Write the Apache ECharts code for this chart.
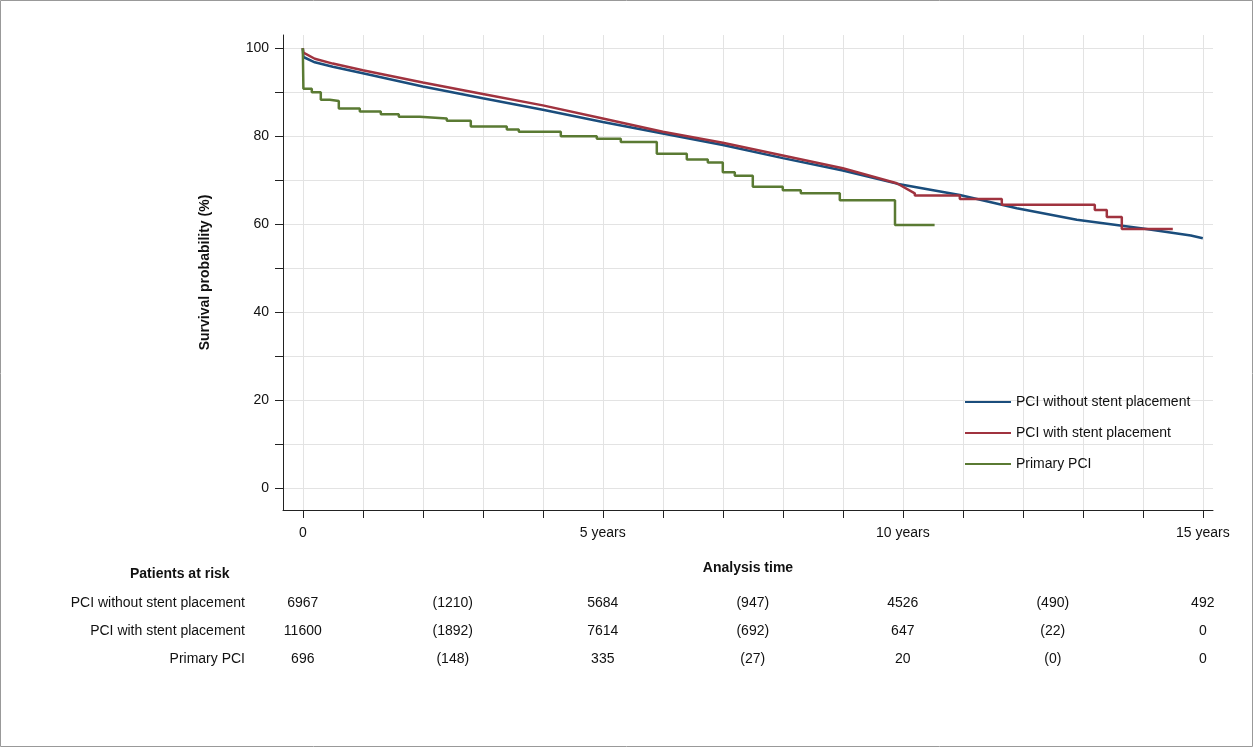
<!DOCTYPE html>
<html>
<head>
<meta charset="utf-8">
<script src="https://cdn.jsdelivr.net/npm/echarts@6/dist/echarts.min.js"></script>
<style>
  html, body { margin: 0; padding: 0; background: #fff; }
  #chart { width: 1253px; height: 747px; }
</style>
</head>
<body>
<div id="chart"></div>
<script>
// survival curves, [years, %]
const withoutStent = [[0, 100], [0.01, 98], [0.2, 96.8], [0.5, 95.8], [1, 94.3], [2, 91.3], [3, 88.6], [4, 86], [5, 83.2], [6, 80.6],
  [7, 78], [8, 75], [9, 72.2], [9.9, 69.2], [10.95, 66.6], [11.9, 63.6], [12.9, 61], [14, 59], [14.8, 57.4], [15, 56.8]];
const withStent = [[0, 100], [0.01, 99], [0.2, 97.6], [0.5, 96.5], [1, 95], [2, 92.2], [3, 89.6], [4, 87], [5, 84], [6, 81],
  [7, 78.5], [8, 75.6], [9, 72.7], [9.9, 69.3], [10.2, 67], [10.2, 66.5], [10.95, 66.5], [10.95, 65.7], [11.65, 65.7],
  [11.65, 64.4], [13.2, 64.4], [13.2, 63.2], [13.4, 63.2], [13.4, 61.6], [13.65, 61.6], [13.65, 58.9], [14.5, 58.9]];
const primary = [[0, 100], [0.01, 90.8], [0.15, 90], [0.3, 88.3], [0.45, 88], [0.6, 86.3], [0.95, 85.6], [1.3, 85], [1.6, 84.4],
  [1.95, 84], [2.4, 83.5], [2.8, 82.2], [3.4, 81.5], [3.6, 81], [4.3, 80], [4.9, 79.4], [5.3, 78.7], [5.9, 76],
  [6.4, 74.7], [6.75, 74], [7.0, 71.8], [7.2, 71], [7.5, 68.5], [8.0, 67.7], [8.3, 67], [8.95, 65.4],
  [9.87, 59.8], [10.53, 59.8]];

const seriesNames = ['PCI without stent placement', 'PCI with stent placement', 'Primary PCI'];
const seriesColors = ['#1a4d7c', '#a0333f', '#5a7a33'];

// patients at risk table
const riskTimes = [0, 2.5, 5, 7.5, 10, 12.5, 15];
const riskWithout = ['6967', '(1210)', '5684', '(947)', '4526', '(490)', '492'];
const riskWith = ['11600', '(1892)', '7614', '(692)', '647', '(22)', '0'];
const riskPrimary = ['696', '(148)', '335', '(27)', '20', '(0)', '0'];

const yTicks = [0, 10, 20, 30, 40, 50, 60, 70, 80, 90, 100];
const yLabels = [0, 20, 40, 60, 80, 100];
const xTicks = [0, 1, 2, 3, 4, 5, 6, 7, 8, 9, 10, 11, 12, 13, 14, 15];
const xLabels = [0, 5, 10, 15];

const font = 'Liberation Sans, Arial, sans-serif';

const riskData = [];
[riskWithout, riskWith, riskPrimary].forEach((row, r) => {
  row.forEach((v, i) => riskData.push({ value: [riskTimes[i], seriesNames[r]], txt: v }));
});

const chart = echarts.init(document.getElementById('chart'));
chart.setOption({
  animation: false,
  textStyle: { fontFamily: font },
  graphic: [
    { type: 'rect', shape: { x: 0.5, y: 0.5, width: 1252, height: 746 }, style: { fill: 'none', stroke: '#999', lineWidth: 1 } },
    { type: 'text', left: 130, top: 567, style: { text: 'Patients at risk', font: 'bold 14px ' + font, fill: '#111' } }
  ],
  legend: {
    orient: 'vertical', left: 960, top: 390, itemGap: 17, itemWidth: 46, itemHeight: 2,
    icon: 'rect',
    textStyle: { fontSize: 14, color: '#111', fontFamily: font },
    data: seriesNames
  },
  grid: [
    { left: 283, right: 40, top: 35, bottom: 237 },
    { left: 283, right: 40, top: 589, height: 84 }
  ],
  xAxis: [{
    gridIndex: 0, type: 'value', min: -0.33, max: 15.17,
    name: 'Analysis time', nameLocation: 'middle', nameGap: 51,
    nameTextStyle: { fontWeight: 'bold', fontSize: 14, color: '#111' },
    axisLine: { onZero: false, lineStyle: { color: '#222' } },
    axisTick: { show: true, length: 8, lineStyle: { color: '#222' }, customValues: xTicks },
    axisLabel: { customValues: xLabels, fontSize: 14, color: '#111', margin: 16,
      formatter: v => v === 0 ? '0' : v + ' years' },
    splitLine: { show: true, lineStyle: { color: '#e3e3e3' } }
  }, {
    gridIndex: 1, type: 'value', min: -0.33, max: 15.17, show: false
  }],
  yAxis: [{
    gridIndex: 0, type: 'value', min: -5, max: 103,
    name: 'Survival probability (%)', nameLocation: 'middle', nameGap: 71, nameRotate: 90,
    nameTextStyle: { fontWeight: 'bold', fontSize: 14, color: '#111' },
    axisLine: { show: true, onZero: false, lineStyle: { color: '#222' } },
    axisTick: { show: true, length: 8, lineStyle: { color: '#222' }, customValues: yTicks },
    axisLabel: { customValues: yLabels, fontSize: 14, color: '#111', margin: 14 },
    splitLine: { show: true, lineStyle: { color: '#e3e3e3' } }
  }, {
    gridIndex: 1, type: 'category', inverse: true, data: seriesNames,
    axisLine: { show: false }, axisTick: { show: false },
    axisLabel: { fontSize: 14, color: '#111', margin: 38 }
  }],
  series: [
    { name: seriesNames[0], type: 'line', data: withoutStent, showSymbol: false, color: seriesColors[0], lineStyle: { width: 2.5 } },
    { name: seriesNames[1], type: 'line', data: withStent, showSymbol: false, color: seriesColors[1], lineStyle: { width: 2.5 } },
    { name: seriesNames[2], type: 'line', step: 'end', data: primary, showSymbol: false, color: seriesColors[2], lineStyle: { width: 2.5 } },
    {
      type: 'scatter', xAxisIndex: 1, yAxisIndex: 1, symbolSize: 0, data: riskData, itemStyle: { opacity: 1 },
      label: { show: true, position: 'inside', fontSize: 14, color: '#111', formatter: p => p.data.txt }
    }
  ]
});
</script>
</body>
</html>
